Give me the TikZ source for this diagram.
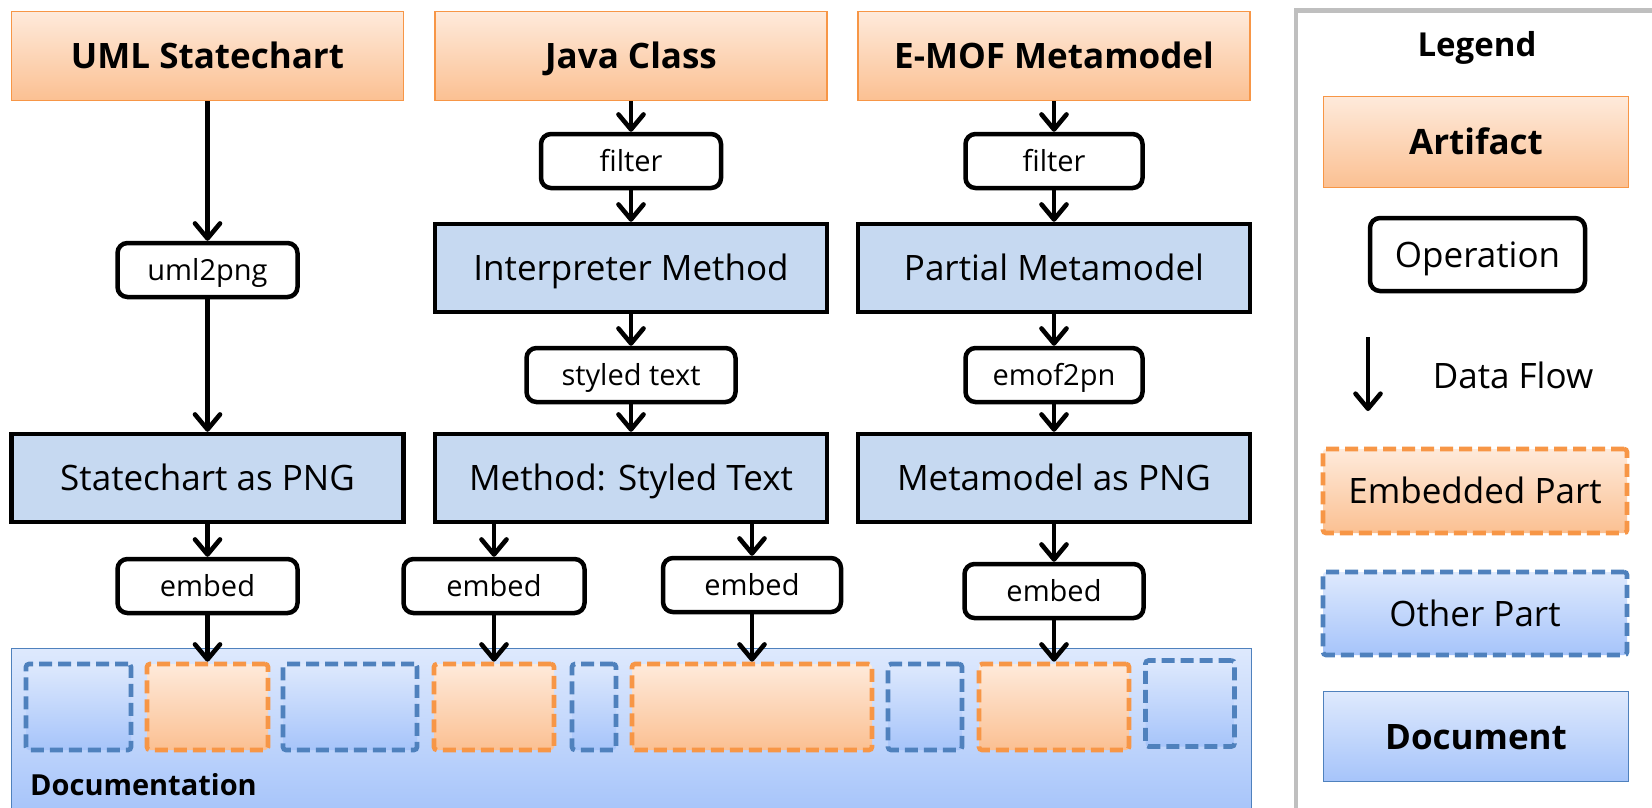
\documentclass[tikz,border=0pt]{standalone}
\usepackage{fontspec}
\setmainfont{Open Sans}
\usetikzlibrary{arrows.meta}
\definecolor{orgB}{HTML}{F79646}
\definecolor{orgT}{HTML}{FEEADB}
\definecolor{orgM}{HTML}{FBC092}
\definecolor{bluB}{HTML}{4F81BD}
\definecolor{partF}{HTML}{C6D9F1}
\definecolor{docT}{HTML}{DEE9FD}
\definecolor{docB}{HTML}{A6C4FA}
\definecolor{legB}{HTML}{BFBFBF}
\tikzset{
  big/.style={font=\fontsize{35}{42}\selectfont, text height=25pt, text depth=0pt},
  bigb/.style={font=\fontsize{35}{42}\selectfont\bfseries, text height=25pt, text depth=0pt},
  artifact/.style={draw=orgB, line width=1.5pt, top color=orgT, bottom color=orgM,
    minimum width=392pt, minimum height=89pt, inner sep=0pt, bigb},
  partbox/.style={draw=black, line width=4.5pt, fill=partF, minimum width=392pt,
    minimum height=88pt, inner sep=0pt, big},
  opbox/.style={draw=black, line width=4.5pt, rounded corners=10pt, fill=white,
    minimum height=54pt, inner sep=0pt, font=\fontsize{29}{35}\selectfont,
    text height=21pt, text depth=0pt},
  flow/.style={line width=4.6pt, -{Straight Barb[length=15pt,width=25pt,round]}},
  embpart/.style={draw=orgB, line width=4.6pt, dash pattern=on 13pt off 6pt,
    top color=orgT, bottom color=orgM, rounded corners=3pt, inner sep=0pt,
    minimum height=86pt},
  othpart/.style={draw=bluB, line width=4.6pt, dash pattern=on 13pt off 6pt,
    top color=docT, bottom color=docB, rounded corners=3pt, inner sep=0pt,
    minimum height=86pt},
  docbox/.style={draw=bluB, line width=1.5pt, top color=docT, bottom color=docB,
    inner sep=0pt},
  lbl/.style={inner sep=0pt, big}
}
\begin{document}
\begin{tikzpicture}[x=1pt,y=-1pt]
\useasboundingbox (0,0) rectangle (1652,807);
\fill[white] (0,0) rectangle (1652,807);

% Documentation area
\node[docbox, minimum width=1240pt, minimum height=165pt] (doc) at (631.25,731) {};
\node[anchor=west, inner sep=0pt, font=\fontsize{29}{35}\selectfont\bfseries] (doclbl) at (30,785) {Documentation};

% parts
\node[othpart, minimum width=105pt] (p1) at (78.5,707) {};
\node[embpart, minimum width=121pt] (p2) at (207.5,707) {};
\node[othpart, minimum width=134pt] (p3) at (350,707) {};
\node[embpart, minimum width=120pt] (p4) at (494,707) {};
\node[othpart, minimum width=44pt] (p5) at (594,707) {};
\node[embpart, minimum width=240pt] (p6) at (752,707) {};
\node[othpart, minimum width=74pt] (p7) at (925,707) {};
\node[embpart, minimum width=150pt] (p8) at (1054,707) {};
\node[othpart, minimum width=89pt] (p9) at (1190,703.5) {};

% artifacts
\node[artifact] (uml) at (207.5,56) {UML Statechart};
\node[artifact] (java) at (631,56) {Java Class};
\node[artifact] (emof) at (1054,56) {E-MOF Metamodel};

% column 1
\node[opbox, minimum width=180pt] (u2p) at (207.5,270) {uml2png};
\node[partbox] (scpng) at (207.5,478) {Statechart as PNG};
\node[opbox, minimum width=180pt] (em1) at (207.5,586) {embed};

% column 2
\node[opbox, minimum width=180pt] (f2) at (631,161) {filter};
\node[partbox] (interp) at (631,268) {Interpreter Method};
\node[opbox, minimum width=209pt] (sty) at (631,375) {styled text};
\node[partbox] (mst) at (631,478) {Method: Styled Text};
\node[opbox, minimum width=181pt] (em2) at (494,586) {embed};
\node[opbox, minimum width=178pt] (em3) at (752,585) {embed};

% column 3
\node[opbox, minimum width=177pt] (f3) at (1054,161) {filter};
\node[partbox] (partial) at (1054,268) {Partial Metamodel};
\node[opbox, minimum width=177pt] (e2p) at (1054,375) {emof2pn};
\node[partbox] (mmpng) at (1054,478) {Metamodel as PNG};
\node[opbox, minimum width=179pt] (em4) at (1054,591) {embed};

% flows
\draw[flow] (uml) -- (u2p);
\draw[flow] (u2p) -- (scpng);
\draw[flow] (scpng) -- (em1);
\draw[flow] (em1) -- (p2);

\draw[flow] (java) -- (f2);
\draw[flow] (f2) -- (interp);
\draw[flow] (interp) -- (sty);
\draw[flow] (sty) -- (mst);
\draw[flow] (mst.south -| em2) -- (em2);
\draw[flow] (mst.south -| em3) -- (em3);
\draw[flow] (em2) -- (p4);
\draw[flow] (em3) -- (p6);

\draw[flow] (emof) -- (f3);
\draw[flow] (f3) -- (partial);
\draw[flow] (partial) -- (e2p);
\draw[flow] (e2p) -- (mmpng);
\draw[flow] (mmpng) -- (em4);
\draw[flow] (em4) -- (p8);

% legend
\draw[legB, line width=4.5pt] (1296,10.5) rectangle (1680,840);
\node[lbl, bigb, font=\fontsize{33}{40}\selectfont\bfseries] (lgt) at (1477,44) {Legend};
\node[artifact, minimum width=305pt, minimum height=91pt] (lart) at (1476,142) {Artifact};
\node[opbox, minimum width=215pt, minimum height=73pt, big] (lop) at (1477.5,254.5) {Operation};
\coordinate (fa) at (1368,337);
\coordinate (fb) at (1368,411);
\draw[flow] (fa) -- (fb);
\node[lbl] (ldf) at (1513,376) {Data Flow};
\node[embpart, minimum width=304pt, minimum height=84pt, big] (lemb) at (1475,491) {Embedded Part};
\node[othpart, minimum width=304pt, minimum height=83pt, big] (loth) at (1475,613.5) {Other Part};
\node[docbox, minimum width=305pt, minimum height=90pt, bigb] (ldoc) at (1476,736.5) {Document};
\end{tikzpicture}
\end{document}
